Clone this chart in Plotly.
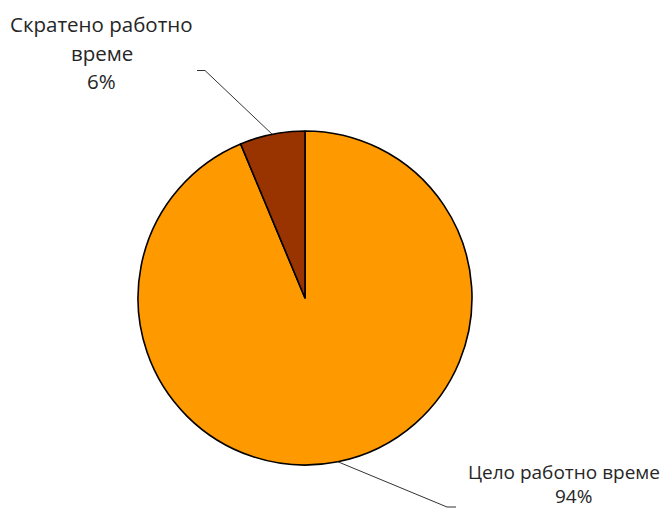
import math
import plotly.graph_objects as go

labels = ["Цело работно време", "Скратено работно време"]
values = [93.7, 6.3]
colors = ["#FF9900", "#993300"]
label_lines = [["Цело работно време"], ["Скратено работно", "време"]]

W, H = 672, 510
cx, cy, r = 305, 298, 167

def px(x):
    return x / W

def py(y):
    return 1 - y / H

fig = go.Figure(go.Pie(
    labels=labels, values=values, sort=False, direction="clockwise",
    rotation=0, marker=dict(colors=colors, line=dict(color="black", width=1.6)),
    textinfo="none", hoverinfo="label+percent", showlegend=False,
    domain=dict(x=[px(cx - r), px(cx + r)], y=[py(cy + r), py(cy - r)]),
))

total = sum(values)
pcts = [round(v / total * 100) for v in values]

# label text placement (pixel centres of each line), font size and leader-line elbows
label_pos = [
    dict(lines=[(564, 472), (573, 496)], size=19, elbow=(447, 507), end=(456, 507)),
    dict(lines=[(102, 24), (102, 53), (102, 81)], size=20.5, elbow=(205, 70.5), end=(197, 70.5)),
]

annotations = []
shapes = []
cum = 0
for i, v in enumerate(values):
    mid = (cum + v / 2) / total * 2 * math.pi
    cum += v
    ex = cx + r * math.sin(mid)
    ey = cy - r * math.cos(mid)
    texts = label_lines[i] + [f"{pcts[i]}%"]
    for t, (lx, ly) in zip(texts, label_pos[i]["lines"]):
        annotations.append(dict(
            text=t, x=px(lx), y=py(ly), xref="paper", yref="paper",
            showarrow=False, xanchor="center", yanchor="middle",
            font=dict(family="Open Sans", size=label_pos[i]["size"], color="#262626"),
        ))
    bx, by = label_pos[i]["elbow"]
    qx, qy = label_pos[i]["end"]
    path = f"M {px(ex)},{py(ey)} L {px(bx)},{py(by)} L {px(qx)},{py(qy)}"
    shapes.append(dict(type="path", xref="paper", yref="paper", path=path,
                       line=dict(color="#333333", width=1)))

fig.update_layout(
    width=W, height=H, margin=dict(l=0, r=0, t=0, b=0),
    paper_bgcolor="white", plot_bgcolor="white",
    annotations=annotations, shapes=shapes,
)
fig.write_html("out.html", config={"displayModeBar": False},
               post_script="document.body.style.margin='0';")
